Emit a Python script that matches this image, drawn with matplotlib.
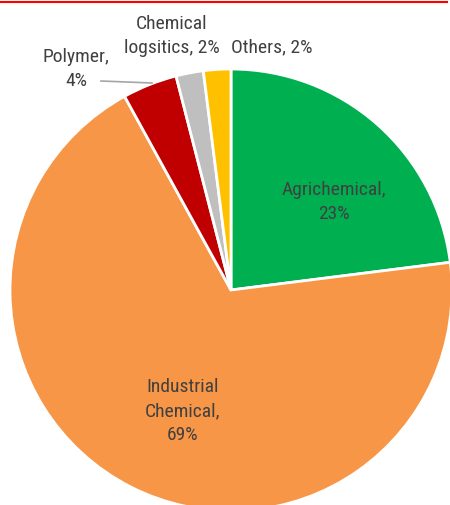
import matplotlib
matplotlib.use("Agg")
import matplotlib.pyplot as plt

categories = ["Agrichemical", "Industrial\nChemical", "Polymer", "Chemical\nlogsitics", "Others"]
values = [23, 69, 4, 2, 2]
colors = ["#00B050", "#F79646", "#C00000", "#BFBFBF", "#FFC000"]

plt.rcParams["font.family"] = ["Roboto Condensed", "DejaVu Sans"]

W, H = 450, 505
fig = plt.figure(figsize=(W / 100, H / 100), dpi=100)
ax = fig.add_axes([0, 0, 1, 1])

cx, cy, r = 231, 290, 221
ax.pie(values, colors=colors, startangle=90, counterclock=False,
       center=(cx, -cy), radius=r,
       wedgeprops=dict(edgecolor="white", linewidth=2.0))
ax.set_xlim(0, W)
ax.set_ylim(-H, 0)
ax.set_aspect("equal")
ax.axis("off")

tc = "#404040"
fs = 14
labels = [
    (f"{categories[0]},\n{values[0]}%", 334, 202),
    (f"{categories[1]},\n{values[1]}%", 183, 411),
    (f"{categories[2]},\n{values[2]}%", 76, 69),
    (f"{categories[3]}, {values[3]}%", 172, 36),
    (f"{categories[4]}, {values[4]}%", 272, 47),
]
for txt, x, y in labels:
    ax.text(x, -y, txt, ha="center", va="center", fontsize=fs, color=tc,
            linespacing=1.4)

ax.plot([101, 152], [-81, -83], color="#A6A6A6", linewidth=1.2)
ax.plot([0, 447], [-2, -2], color="#FF0000", linewidth=1.5, clip_on=False)

fig.savefig("out.png", dpi=100)
